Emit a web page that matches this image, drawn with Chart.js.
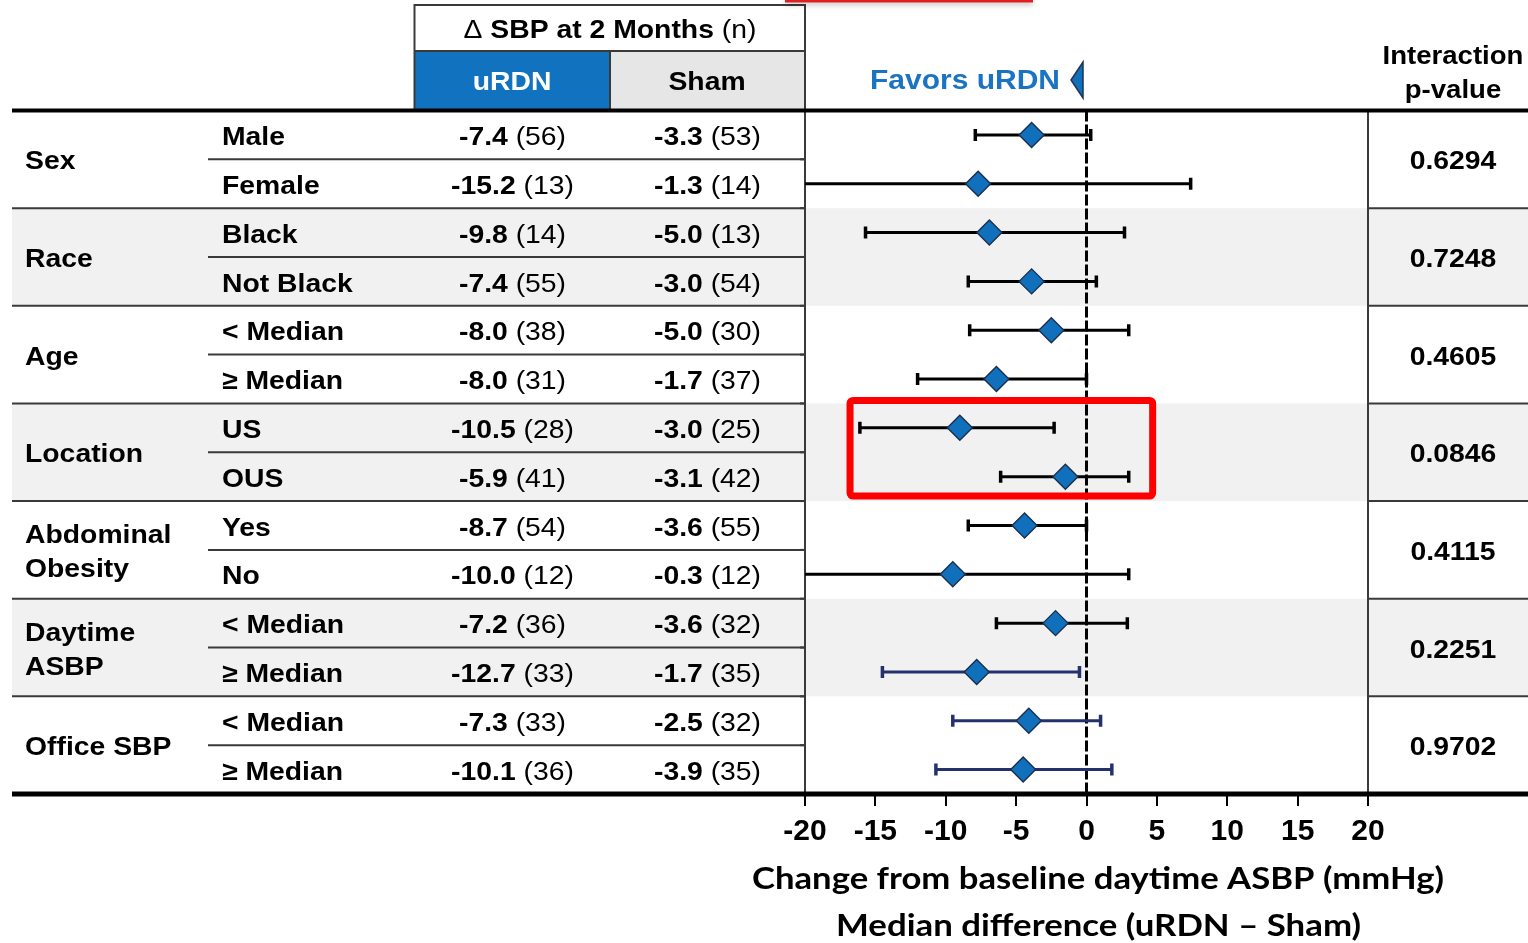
<!DOCTYPE html>
<html>
<head>
<meta charset="utf-8">
<script src="https://cdn.jsdelivr.net/npm/chart.js@4.4.1/dist/chart.umd.min.js"></script>
<style>
  html, body { margin: 0; padding: 0; background: #ffffff; }
  #wrap { width: 1528px; height: 943px; position: relative; }
</style>
</head>
<body>
<div id="wrap"><canvas id="forest"></canvas></div>
<script>
// ---- Subgroup table data ----
const groupLabels = [['Sex'], ['Race'], ['Age'], ['Location'], ['Abdominal', 'Obesity'], ['Daytime', 'ASBP'], ['Office SBP']];
const groupSizes = [2, 2, 2, 2, 2, 2, 2];
const subgroupLabels = ['Male', 'Female', 'Black', 'Not Black', '< Median', '\u2265 Median', 'US', 'OUS',
                        'Yes', 'No', '< Median', '\u2265 Median', '< Median', '\u2265 Median'];
const urdnChange = [-7.4, -15.2, -9.8, -7.4, -8.0, -8.0, -10.5, -5.9, -8.7, -10.0, -7.2, -12.7, -7.3, -10.1];
const urdnN      = [56, 13, 14, 55, 38, 31, 28, 41, 54, 12, 36, 33, 33, 36];
const shamChange = [-3.3, -1.3, -5.0, -3.0, -5.0, -1.7, -3.0, -3.1, -3.6, -0.3, -3.6, -1.7, -2.5, -3.9];
const shamN      = [53, 14, 13, 54, 30, 37, 25, 42, 55, 12, 32, 35, 32, 35];
const interactionP = ['0.6294', '0.7248', '0.4605', '0.0846', '0.4115', '0.2251', '0.9702'];

// ---- Median difference (uRDN - Sham) with confidence limits ----
const medianDiff = [-3.9, -7.7, -6.9, -3.9, -2.5, -6.4, -9.0, -1.5, -4.4, -9.5, -2.2, -7.8, -4.1, -4.5];
const ciLower    = [-7.9, -22.0, -15.7, -8.4, -8.3, -12.0, -16.1, -6.1, -8.4, -22.0, -6.4, -14.5, -9.5, -10.7];
const ciUpper    = [0.3, 7.4, 2.7, 0.7, 3.0, 0.0, -2.3, 3.0, 0.0, 3.0, 2.9, -0.5, 1.0, 1.8];

// ---- Axis ----
const xTicks = [-20, -15, -10, -5, 0, 5, 10, 15, 20];
const xTitle = ['Change from baseline daytime ASBP (mmHg)', 'Median difference (uRDN \u2013 Sham)'];

// ---- Styling ----
const ARIAL = '"Liberation Sans", Arial, sans-serif';
const BOLD = 'bold 26px ' + ARIAL;
const REG = '26px ' + ARIAL;
const SX = 1.09;
const DY = 3;                          // baseline nudge for table text
const BAND = '#f1f1f1';
const RULE = '#3a3a3a';
const BLUE = '#1172c0';
const NAVY = '#24316c';
const highlightRows = [6, 8];          // Location subgroup block
const navyFrom = 11;                   // last three rows drawn in navy

function drawRuns(ctx, runs, x, y, align, sx) {
  let w = 0;
  runs.forEach(r => { ctx.font = r.font; r.w = ctx.measureText(r.text).width; w += r.w; });
  const tw = w * sx;
  const x0 = align === 'center' ? x - tw / 2 : align === 'right' ? x - tw : x;
  ctx.save();
  ctx.translate(x0, y + DY);
  ctx.scale(sx, 1);
  ctx.textBaseline = 'middle';
  ctx.textAlign = 'left';
  let cx = 0;
  runs.forEach(r => { ctx.font = r.font; ctx.fillStyle = r.color || '#000'; ctx.fillText(r.text, cx, 0); cx += r.w; });
  ctx.restore();
}
function drawFit(ctx, text, cx, y, width, font, color) {
  ctx.save();
  ctx.font = font;
  const w = ctx.measureText(text).width;
  const sx = width / w;
  ctx.translate(cx - width / 2, y);
  ctx.scale(sx, 1);
  ctx.textBaseline = 'middle';
  ctx.textAlign = 'left';
  ctx.fillStyle = color;
  ctx.fillText(text, 0, 0);
  ctx.restore();
}
function hline(ctx, x1, x2, y, w, color) {
  ctx.beginPath(); ctx.lineWidth = w; ctx.strokeStyle = color;
  ctx.moveTo(x1, y); ctx.lineTo(x2, y); ctx.stroke();
}
function vline(ctx, x, y1, y2, w, color) {
  ctx.beginPath(); ctx.lineWidth = w; ctx.strokeStyle = color;
  ctx.moveTo(x, y1); ctx.lineTo(x, y2); ctx.stroke();
}

// group boundaries in row units
const groupStarts = [];
groupSizes.reduce((acc, n) => { groupStarts.push(acc); return acc + n; }, 0);

const tablePlugin = {
  id: 'forestTable',
  beforeDraw(chart) {
    const { ctx, scales: { y }, width } = chart;
    ctx.save();
    ctx.fillStyle = '#ffffff';
    ctx.fillRect(0, 0, chart.width, chart.height);
    // shaded bands for alternating groups
    groupStarts.forEach((s, g) => {
      if (g % 2 === 1) {
        const top = y.getPixelForValue(s), bot = y.getPixelForValue(s + groupSizes[g]);
        ctx.fillStyle = BAND;
        ctx.fillRect(12, top, width - 12, bot - top);
      }
    });
    // header cells
    ctx.fillStyle = BLUE;
    ctx.fillRect(414.5, 51, 195.5, 59);
    ctx.fillStyle = '#e6e6e6';
    ctx.fillRect(610, 51, 195, 59);
    ctx.restore();
  },
  beforeDatasetsDraw(chart) {
    const { ctx, chartArea: ca, scales: { x, y }, width } = chart;
    ctx.save();
    // subgroup and group rules
    for (let k = 1; k < subgroupLabels.length; k++) {
      const py = y.getPixelForValue(k);
      if (groupStarts.includes(k)) {
        hline(ctx, 12, ca.left, py, 2, RULE);
        hline(ctx, ca.right, width, py, 2, RULE);
      } else {
        hline(ctx, 208, ca.left, py, 2, RULE);
      }
      hline(ctx, ca.left - 5, ca.left, py, 2, RULE);
    }
    // header box
    hline(ctx, 414.5, ca.left, 5, 2, RULE);
    hline(ctx, 414.5, ca.left, 51, 2, RULE);
    vline(ctx, 414.5, 4, 111, 2, RULE);
    vline(ctx, 610, 51, 111, 2, RULE);
    vline(ctx, ca.left, 4, ca.bottom, 2, RULE);
    vline(ctx, ca.right, ca.top, ca.bottom, 2, RULE);
    // heavy top / bottom rules
    hline(ctx, 12, width, ca.top, 4, '#000');
    hline(ctx, 12, width, ca.bottom, 5, '#000');

    // header text
    drawRuns(ctx, [{ text: '\u0394 ', font: REG }, { text: 'SBP at 2 Months ', font: BOLD }, { text: '(n)', font: REG }], 610, 27.5, 'center', SX);
    drawRuns(ctx, [{ text: 'uRDN', font: BOLD, color: '#ffffff' }], 512, 80, 'center', SX);
    drawRuns(ctx, [{ text: 'Sham', font: BOLD }], 707, 80, 'center', SX);
    drawRuns(ctx, [{ text: 'Interaction', font: BOLD }], 1453, 54, 'center', 1.06);
    drawRuns(ctx, [{ text: 'p-value', font: BOLD }], 1453, 88, 'center', 1.06);
    drawFit(ctx, 'Favors uRDN', 965, 82, 190, 'bold 27px ' + ARIAL, '#1a74c2');
    // pointer triangle
    ctx.beginPath();
    ctx.moveTo(1083, 62); ctx.lineTo(1083, 98); ctx.lineTo(1071, 80); ctx.closePath();
    ctx.fillStyle = '#1170bb'; ctx.fill();
    ctx.lineWidth = 1.5; ctx.strokeStyle = '#1e3355'; ctx.stroke();

    // group labels and p-values
    groupStarts.forEach((s, g) => {
      const mid = y.getPixelForValue(s + groupSizes[g] / 2);
      const lines = groupLabels[g];
      lines.forEach((t, j) => {
        const ly = mid + (j - (lines.length - 1) / 2) * 34;
        drawRuns(ctx, [{ text: t, font: BOLD }], 25, ly, 'left', SX);
      });
      drawRuns(ctx, [{ text: interactionP[g], font: BOLD }], 1453, mid, 'center', SX);
    });
    // row text
    subgroupLabels.forEach((t, i) => {
      const py = y.getPixelForValue(i + 0.5);
      drawRuns(ctx, [{ text: t, font: BOLD }], 222, py, 'left', SX);
      drawRuns(ctx, [{ text: urdnChange[i].toFixed(1) + ' ', font: BOLD }, { text: '(' + urdnN[i] + ')', font: REG }], 512.5, py, 'center', SX);
      drawRuns(ctx, [{ text: shamChange[i].toFixed(1) + ' ', font: BOLD }, { text: '(' + shamN[i] + ')', font: REG }], 707.5, py, 'center', SX);
    });

    // axis title
    drawFit(ctx, xTitle[0], 1098, 879, 692, 'bold 31px Lato, "Open Sans", sans-serif', '#000');
    drawFit(ctx, xTitle[1], 1098.5, 926, 525, 'bold 31px Lato, "Open Sans", sans-serif', '#000');

    // clipped plot contents: zero line and interval bars
    ctx.save();
    ctx.beginPath();
    ctx.rect(ca.left, ca.top, ca.right - ca.left, ca.bottom - ca.top);
    ctx.clip();
    const zx = x.getPixelForValue(0);
    ctx.setLineDash([11, 3]);
    vline(ctx, zx, ca.top, ca.bottom, 3, '#000');
    ctx.setLineDash([]);
    medianDiff.forEach((m, i) => {
      const py = y.getPixelForValue(i + 0.5);
      const lo = x.getPixelForValue(ciLower[i]);
      const hi = x.getPixelForValue(ciUpper[i]);
      const col = i >= navyFrom ? NAVY : '#000';
      hline(ctx, lo, hi, py, 3, col);
      [lo, hi].forEach(px => {
        if (px > ca.left && px < ca.right) vline(ctx, px, py - 6, py + 6, 3.5, col);
      });
    });
    ctx.restore();
    ctx.restore();
  },
  afterDatasetsDraw(chart) {
    const { ctx, scales: { x, y } } = chart;
    ctx.save();
    // highlight frame around the Location rows
    const l = x.getPixelForValue(-16.8), r = x.getPixelForValue(4.7);
    const t = y.getPixelForValue(highlightRows[0]) - 3, b = y.getPixelForValue(highlightRows[1]) - 5;
    ctx.lineWidth = 7;
    ctx.strokeStyle = '#ff0000';
    ctx.beginPath();
    ctx.roundRect(l, t, r - l, b - t, 3);
    ctx.stroke();
    // red rule at the top edge
    ctx.shadowColor = 'rgba(0,0,0,0.35)';
    ctx.shadowBlur = 5;
    ctx.shadowOffsetY = 2;
    ctx.fillStyle = '#e02020';
    ctx.fillRect(785, 0, 248, 2.5);
    ctx.restore();
  }
};

new Chart(document.getElementById('forest'), {
  type: 'scatter',
  data: {
    datasets: [{
      data: medianDiff.map((v, i) => ({ x: v, y: i + 0.5 })),
      pointStyle: 'rectRot',
      pointRadius: 12.5,
      pointHoverRadius: 12.5,
      backgroundColor: '#1170bb',
      borderColor: '#1a2f50',
      borderWidth: 1.4
    }]
  },
  options: {
    responsive: true,
    maintainAspectRatio: false,
    animation: false,
    events: [],
    layout: { padding: { left: 805, right: 160, top: 110.5, bottom: 0 } },
    plugins: { legend: { display: false }, tooltip: { enabled: false } },
    scales: {
      x: {
        type: 'linear',
        min: -20, max: 20,
        afterBuildTicks: s => { s.ticks = xTicks.map(v => ({ value: v })); },
        afterFit: s => { s.height = 149; },
        border: { display: false },
        grid: { drawOnChartArea: false, drawTicks: true, tickLength: 12, color: '#000', lineWidth: 2 },
        ticks: {
          color: '#000',
          font: { family: ARIAL, weight: 'bold', size: 30 },
          padding: 8,
          maxRotation: 0,
          autoSkip: false,
          callback: v => String(v)
        }
      },
      y: { type: 'linear', min: 0, max: 14, reverse: true, display: false }
    }
  },
  plugins: [tablePlugin]
});
</script>
</body>
</html>
